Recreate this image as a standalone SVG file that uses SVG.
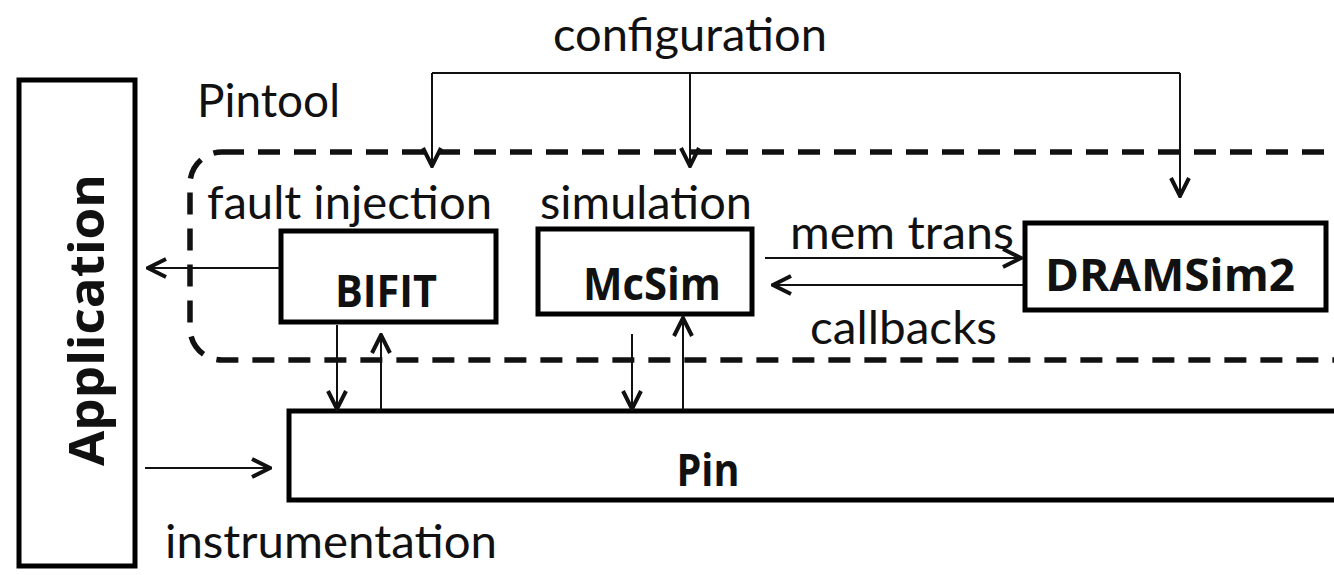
<svg xmlns="http://www.w3.org/2000/svg" width="1334" height="575" viewBox="0 0 1334 575">
<defs>
<style>
.box{fill:#fff;stroke:#000;stroke-width:5}
.lbl{font-family:Lato,"Open Sans","Liberation Sans",sans-serif;font-size:46px;fill:#111}
.bold{font-family:"Open Sans",Lato,"Liberation Sans",sans-serif;font-weight:bold;font-size:45px;fill:#111}
.ln{fill:none;stroke:#111;stroke-width:2}
</style>
<marker id="ah" markerUnits="userSpaceOnUse" markerWidth="24" markerHeight="24" viewBox="0 0 24 24" refX="22" refY="12" orient="auto">
<path d="M4,3 L22,12 L4,21" fill="none" stroke="#111" stroke-width="4"/>
</marker>
</defs>
<rect width="1334" height="575" fill="#fff"/>

<g id="pintool">
<rect x="190" y="152" width="1210" height="208" rx="32" fill="none" stroke="#111" stroke-width="5.5" stroke-dasharray="22 14"/>
<text class="lbl" x="197" y="117" textLength="143" lengthAdjust="spacingAndGlyphs">Pintool</text>
</g>

<g id="application">
<rect class="box" x="19" y="80" width="116" height="486"/>
<text class="bold" style="font-size:48px" transform="translate(104,320) rotate(-90)" text-anchor="middle" textLength="292" lengthAdjust="spacingAndGlyphs">Application</text>
</g>

<g id="bifit">
<rect class="box" x="281" y="231" width="215" height="91"/>
<text class="bold" x="386" y="307" text-anchor="middle" textLength="102" lengthAdjust="spacingAndGlyphs">BIFIT</text>
</g>

<g id="mcsim">
<rect class="box" x="538" y="229" width="214" height="85"/>
<text class="bold" x="652" y="300" text-anchor="middle" textLength="138" lengthAdjust="spacingAndGlyphs">McSim</text>
</g>

<g id="dramsim2">
<rect class="box" x="1025" y="223" width="301" height="87"/>
<text class="bold" x="1170" y="291" text-anchor="middle" textLength="250" lengthAdjust="spacingAndGlyphs">DRAMSim2</text>
</g>

<g id="pin">
<rect class="box" x="289" y="411" width="1060" height="89"/>
<text class="bold" x="708" y="486" text-anchor="middle" textLength="63" lengthAdjust="spacingAndGlyphs">Pin</text>
</g>

<g id="labels">
<text class="lbl" x="553" y="51" textLength="274" lengthAdjust="spacingAndGlyphs">configuration</text>
<text class="lbl" x="207" y="219" textLength="285" lengthAdjust="spacingAndGlyphs">fault injection</text>
<text class="lbl" x="540" y="219" textLength="212" lengthAdjust="spacingAndGlyphs">simulation</text>
<text class="lbl" x="790" y="249" textLength="224" lengthAdjust="spacingAndGlyphs">mem trans</text>
<text class="lbl" x="810" y="344" textLength="187" lengthAdjust="spacingAndGlyphs">callbacks</text>
<text class="lbl" x="165" y="558" textLength="332" lengthAdjust="spacingAndGlyphs">instrumentation</text>
</g>

<g id="connectors">
<path class="ln" d="M432,73 H1180"/>
<path class="ln" d="M432,73 V166" marker-end="url(#ah)"/>
<path class="ln" d="M690,73 V166" marker-end="url(#ah)"/>
<path class="ln" d="M1180,73 V196" marker-end="url(#ah)"/>
<path class="ln" d="M280,268 H148" marker-end="url(#ah)"/>
<path class="ln" d="M765,258 H1021" marker-end="url(#ah)"/>
<path class="ln" d="M1023,285 H773" marker-end="url(#ah)" stroke-width="3"/>
<path class="ln" d="M337,325 V409" marker-end="url(#ah)"/>
<path class="ln" d="M381,410 V335" marker-end="url(#ah)"/>
<path class="ln" d="M632,334 V409" marker-end="url(#ah)"/>
<path class="ln" d="M683,410 V318" marker-end="url(#ah)"/>
<path class="ln" d="M145,468 H270" marker-end="url(#ah)" stroke-width="3"/>
</g>
</svg>
